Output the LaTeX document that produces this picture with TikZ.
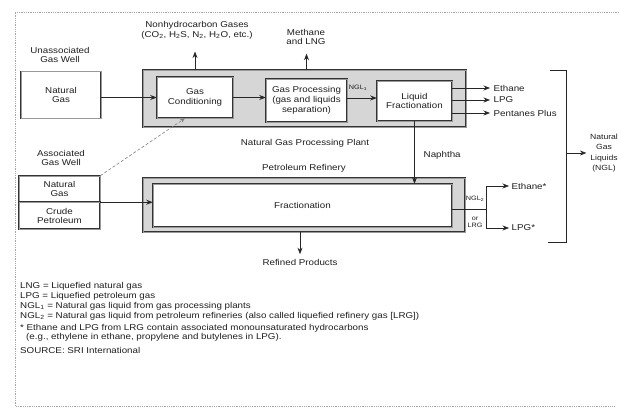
\documentclass[tikz,border=0pt]{standalone}
\usepackage{fontspec}
\setmainfont{Liberation Sans}[FakeStretch=1.15]
\usetikzlibrary{arrows.meta}
\begin{document}
\begin{tikzpicture}[x=1pt,y=-1pt,
  lbl/.style={font=\fontsize{8.5}{9.8}\selectfont, text=black!88, inner sep=0.5pt, align=center},
  small/.style={font=\fontsize{6.3}{7.2}\selectfont, text=black!88, inner sep=0.3pt, align=center},
  leg/.style={font=\fontsize{8.5}{9}\selectfont, text=black!88, inner sep=0pt, anchor=west},
  boxline/.style={draw=black!80, line width=0.5pt, double=black!40, double distance=0.7pt},
  wbox/.style={boxline, fill=white, inner sep=1pt, align=center, font=\fontsize{8.5}{9.8}\selectfont, text=black!88},
  gbox/.style={boxline, fill=black!16},
  arr/.style={draw=black!85, line width=0.7pt, -{Stealth[length=6.5pt,width=5pt]}},
  ln/.style={draw=black!85, line width=0.7pt},
  frame/.style={draw=black!35, line width=0.8pt, densely dotted}
]
\useasboundingbox (0,0) rectangle (619,414);
\fill[white] (0,0) rectangle (619,414);
\draw[frame] (619,12) -- (15,12) -- (15,406) -- (615,406);

% Natural gas processing plant
\node[gbox, minimum width=323pt, minimum height=57pt] (ngpp) at (304.5,98.5) {};
\node[wbox, minimum width=76pt, minimum height=41pt] (gc) at (195,97.5) {Gas\\Conditioning};
\node[wbox, minimum width=81pt, minimum height=43pt] (gp) at (306.5,100.5) {Gas Processing\\(gas and liquids\\separation)};
\node[wbox, minimum width=75pt, minimum height=40pt] (lf) at (414.5,101) {Liquid\\Fractionation};

% wells
\node[lbl] (uw) at (60,55) {Unassociated\\Gas Well};
\node[wbox, minimum width=80pt, minimum height=47pt] (ng) at (61,95) {Natural\\Gas};
\node[lbl] (aw) at (61,158) {Associated\\Gas Well};
\node[wbox, minimum width=81pt, minimum height=26pt, font=\fontsize{8.5}{9}\selectfont] (agn) at (59.5,189) {Natural\\Gas};
\node[wbox, minimum width=81pt, minimum height=27pt, font=\fontsize{8.5}{9}\selectfont] (agc) at (59.5,215.5) {Crude\\Petroleum};

% refinery
\node[gbox, minimum width=322pt, minimum height=54pt] (pr) at (304,205) {};
\node[wbox, minimum width=299pt, minimum height=43pt] (fr) at (302.5,205.5) {Fractionation};

% top outputs
\node[lbl] (nh) at (197,30) {Nonhydrocarbon Gases\\(CO\textsubscript{2}, H\textsubscript{2}S, N\textsubscript{2}, H\textsubscript{2}O, etc.)};
\node[lbl] (me) at (306,37) {Methane\\and LNG};
\draw[arr, shorten >=12pt] (gc.north |- ngpp.north) -- (gc.north |- nh.south);
\draw[arr, shorten >=8pt] (gp.north |- ngpp.north) -- (gp.north |- me.south);

% plant labels
\node[lbl] (ngppl) at (305,143) {Natural Gas Processing Plant};
\node[lbl] (prl) at (304,168) {Petroleum Refinery};

% main flows
\draw[arr] (ng.east |- gc) -- (gc.west);
\draw[arr] (gc.east) -- (gc.east -| gp.west);
\draw[arr] (gp.east |- 0,98) -- (lf.west |- 0,98);
\node[small] (ngl1) at (358,88) {NGL\textsubscript{1}};
\draw[draw=black!50, line width=0.6pt, densely dashed, -{Stealth[length=5pt,width=4pt]}] (agn.north east) -- ([xshift=-10pt]gc.south);
\draw[arr] (agn.south east) -- (agn.south east -| fr.west);

% fractionation products
\node[lbl, anchor=west] (eth) at (493,88) {Ethane};
\node[lbl, anchor=west] (lpg) at (493,100) {LPG};
\node[lbl, anchor=west] (pp) at (493,113) {Pentanes Plus};
\draw[arr, shorten >=3pt] (lf.east |- eth) -- (eth.west);
\draw[arr, shorten >=3pt] (lf.east |- lpg) -- (lpg.west);
\draw[arr, shorten >=3pt] (lf.east |- pp) -- (pp.west);

% naphtha
\node[lbl, anchor=west] (nap) at (423,155) {Naphtha};
\draw[arr] (lf.south) -- (lf.south |- fr.north);

% refined products
\node[lbl] (rp) at (300,262) {Refined Products};
\draw[arr, shorten >=4pt] (rp.north |- pr.south) -- (rp.north);

% refinery gas outputs
\coordinate (j) at (486,209);
\draw[ln] (fr.east |- j) -- (j);
\node[lbl, anchor=west] (eths) at (511,186) {Ethane*};
\node[lbl, anchor=west] (lpgs) at (511,228) {LPG*};
\draw[arr, shorten >=2pt] (j) |- (eths.west);
\draw[arr, shorten >=2pt] (j) |- (lpgs.west);
\node[small] (ngl2) at (475,199) {NGL\textsubscript{2}};
\node[small] (orl) at (475,222) {or\\LRG};

% bracket
\coordinate (b1) at (550,70);
\coordinate (b2) at (566,70);
\coordinate (b3) at (566,242);
\coordinate (b4) at (548,242);
\draw[ln] (b1) -- (b2) -- (b3) -- (b4);
\coordinate (bm) at (566,153);
\node[font=\fontsize{7.5}{10.5}\selectfont, text=black!88, align=center, inner sep=0.5pt] (ngl) at (604,153) {Natural\\Gas\\Liquids\\(NGL)};
\draw[arr, shorten >=3pt] (bm) -- (ngl.west);

% legend
\node[leg] (l1) at (20,286) {LNG = Liquefied natural gas};
\node[leg] (l2) at (20,296) {LPG = Liquefied petroleum gas};
\node[leg] (l3) at (20,306) {NGL\textsubscript{1} = Natural gas liquid from gas processing plants};
\node[leg] (l4) at (20,316) {NGL\textsubscript{2} = Natural gas liquid from petroleum refineries (also called liquefied refinery gas [LRG])};
\node[leg] (l5) at (20,328) {* Ethane and LPG from LRG contain associated monounsaturated hydrocarbons};
\node[leg] (l6) at (26,337) {(e.g., ethylene in ethane, propylene and butylenes in LPG).};
\node[leg] (l7) at (20,350) {SOURCE: SRI International};
\end{tikzpicture}
\end{document}
